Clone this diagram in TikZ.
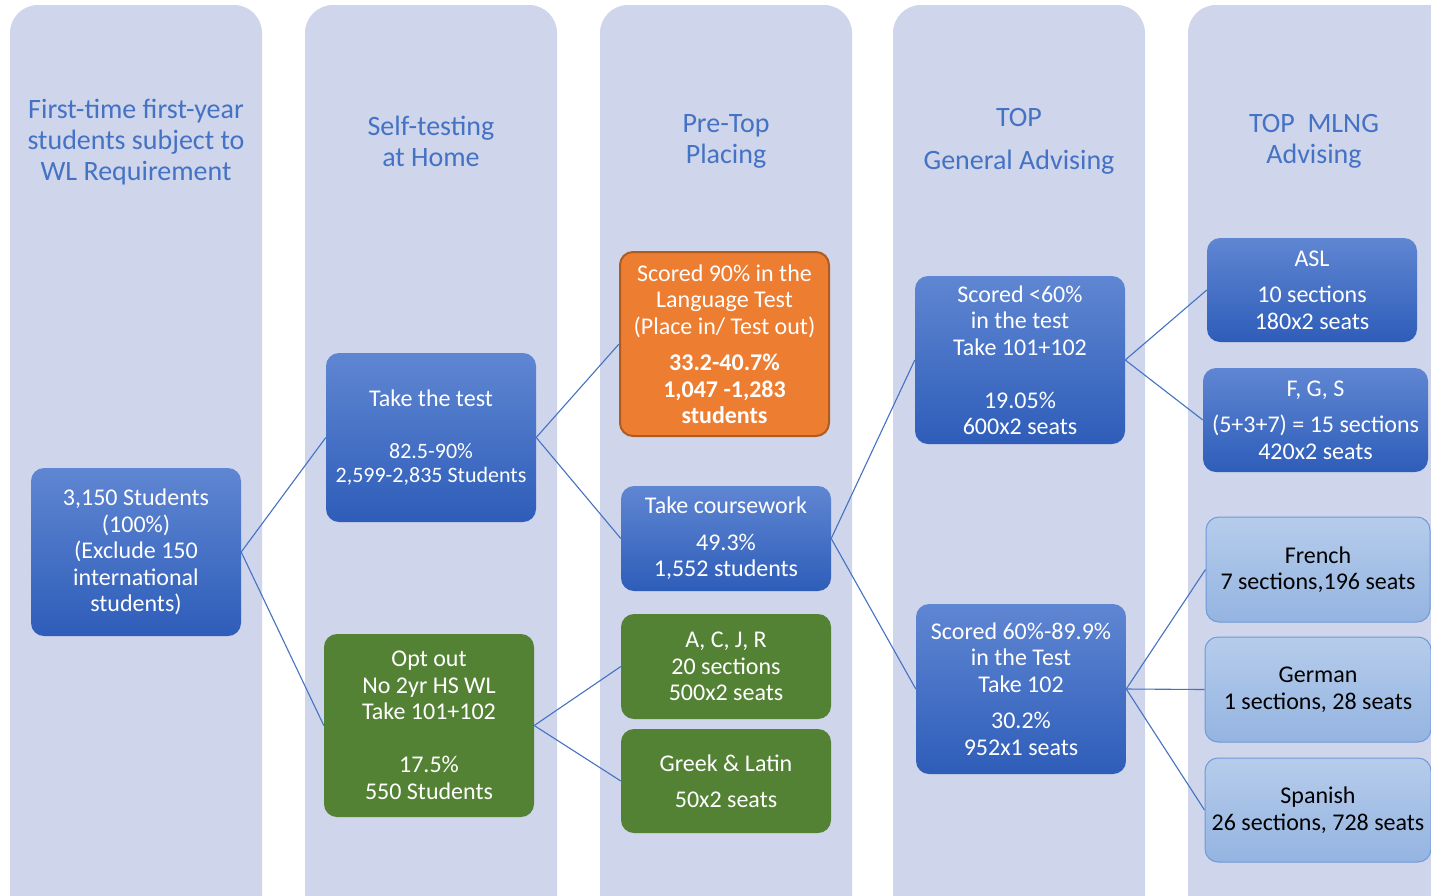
\documentclass[tikz,border=0pt]{standalone}
\usepackage{fontspec}
\setmainfont{Carlito}
\definecolor{colbg}{HTML}{CFD5EA}
\definecolor{hdrblue}{HTML}{4472C4}
\definecolor{btop}{HTML}{5F86D2}
\definecolor{bbot}{HTML}{2E5DB9}
\definecolor{grn}{HTML}{548235}
\definecolor{org}{HTML}{ED7D31}
\definecolor{orgb}{HTML}{B05B1F}
\definecolor{ltop}{HTML}{B6CCEB}
\definecolor{lbot}{HTML}{94B4E1}
\definecolor{lbord}{HTML}{6E9AD8}
\definecolor{conn}{HTML}{4472C4}
\newcommand\boxfont{\fontsize{24}{26.5}\selectfont}
\newcommand\smallboxfont{\fontsize{22}{24}\selectfont}
\newcommand\hdrfont{\fontsize{28}{31}\selectfont}
\tikzset{
  colbox/.style={fill=colbg, rounded corners=28},
  hdr/.style={text=hdrblue, align=center, font=\hdrfont},
  basebox/.style={rounded corners=13, align=center, font=\boxfont, inner sep=2},
  bluebox/.style={basebox, top color=btop, bottom color=bbot, text=white},
  greenbox/.style={basebox, fill=grn, text=white},
  orangebox/.style={basebox, fill=org, draw=orgb, line width=2, text=white},
  lightbox/.style={basebox, top color=ltop, bottom color=lbot, draw=lbord, line width=1, text=black},
  link/.style={draw=conn, line width=1.1},
}
\begin{document}
\begin{tikzpicture}[x=1pt,y=-1pt]
\useasboundingbox (0,0) rectangle (1431,895);
\clip (0,0) rectangle (1431,895);
\fill[white] (0,0) rectangle (1431,895);
% columns
\path[colbox] (10,5) rectangle (262,930);
\path[colbox] (305,5) rectangle (557,930);
\path[colbox] (600,5) rectangle (852,930);
\path[colbox] (893,5) rectangle (1145,930);
\path[colbox] (1188,5) rectangle (1480,930);
% headers
\node[hdr] (h1) at (136,142) {First-time first-year\\students subject to\\WL Requirement};
\node[hdr] (h2) at (431,141) {Self-testing\\at Home};
\node[hdr] (h3) at (726,141) {Pre-Top\\Placing};
\node[hdr] (h4) at (1019,141.5) {TOP\\[12pt]General Advising};
\node[hdr] (h5) at (1314,141) {TOP\ \ MLNG\\Advising};
% boxes
\node[bluebox, minimum width=210, minimum height=168] (root) at (136,552)
  {3,150 Students\\(100\%)\\(Exclude 150\\international\\students)};
\node[bluebox, font=\smallboxfont, minimum width=210, minimum height=169] (test) at (431,437.5)
  {{\boxfont Take the test}\\[28pt]82.5-90\%\\2,599-2,835 Students};
\node[greenbox, minimum width=210, minimum height=183] (opt) at (429,725.5)
  {Opt out\\No 2yr HS WL\\Take 101+102\\ \\17.5\%\\550 Students};
\node[orangebox, minimum width=209, minimum height=184] (place) at (724.5,344)
  {Scored 90\% in the\\Language Test\\(Place in/ Test out)\\[10pt]\textbf{33.2-40.7\%}\\\textbf{1,047 -1,283}\\\textbf{students}};
\node[bluebox, minimum width=210, minimum height=105] (course) at (726,538.5)
  {Take coursework\\[10pt]49.3\%\\1,552 students};
\node[greenbox, minimum width=210, minimum height=105] (acjr) at (726,666.5)
  {A, C, J, R\\20 sections\\500x2 seats};
\node[greenbox, minimum width=210, minimum height=104] (greek) at (726,781)
  {Greek \& Latin\\[10pt]50x2 seats};
\node[bluebox, minimum width=210, minimum height=168] (low) at (1020,360)
  {Scored <60\%\\in the test\\Take 101+102\\ \\19.05\%\\600x2 seats};
\node[bluebox, minimum width=210, minimum height=170] (mid) at (1021,689)
  {Scored 60\%-89.9\%\\in the Test\\Take 102\\[10pt]30.2\%\\952x1 seats};
\node[bluebox, minimum width=210, minimum height=104] (asl) at (1312,290)
  {ASL\\[10pt]10 sections\\180x2 seats};
\node[bluebox, minimum width=225, minimum height=104] (fgs) at (1315.5,420)
  {F, G, S\\[10pt](5+3+7) = 15 sections\\420x2 seats};
\node[lightbox, minimum width=224, minimum height=105] (french) at (1318,569.5)
  {French\\7 sections,196 seats};
\node[lightbox, minimum width=226, minimum height=105] (german) at (1318,689.5)
  {German\\1 sections, 28 seats};
\node[lightbox, minimum width=226, minimum height=104] (spanish) at (1318,810)
  {Spanish\\26 sections, 728 seats};
% connectors
\draw[link] (root.east) -- (test.west);
\draw[link] (root.east) -- (opt.west);
\draw[link] (test.east) -- (place.west);
\draw[link] (test.east) -- (course.west);
\draw[link] (opt.east) -- (acjr.west);
\draw[link] (opt.east) -- (greek.west);
\draw[link] (course.east) -- (low.west);
\draw[link] (course.east) -- (mid.west);
\draw[link] (low.east) -- (asl.west);
\draw[link] (low.east) -- (fgs.west);
\draw[link] (mid.east) -- (french.west);
\draw[link] (mid.east) -- (german.west);
\draw[link] (mid.east) -- (spanish.west);
\end{tikzpicture}
\end{document}
